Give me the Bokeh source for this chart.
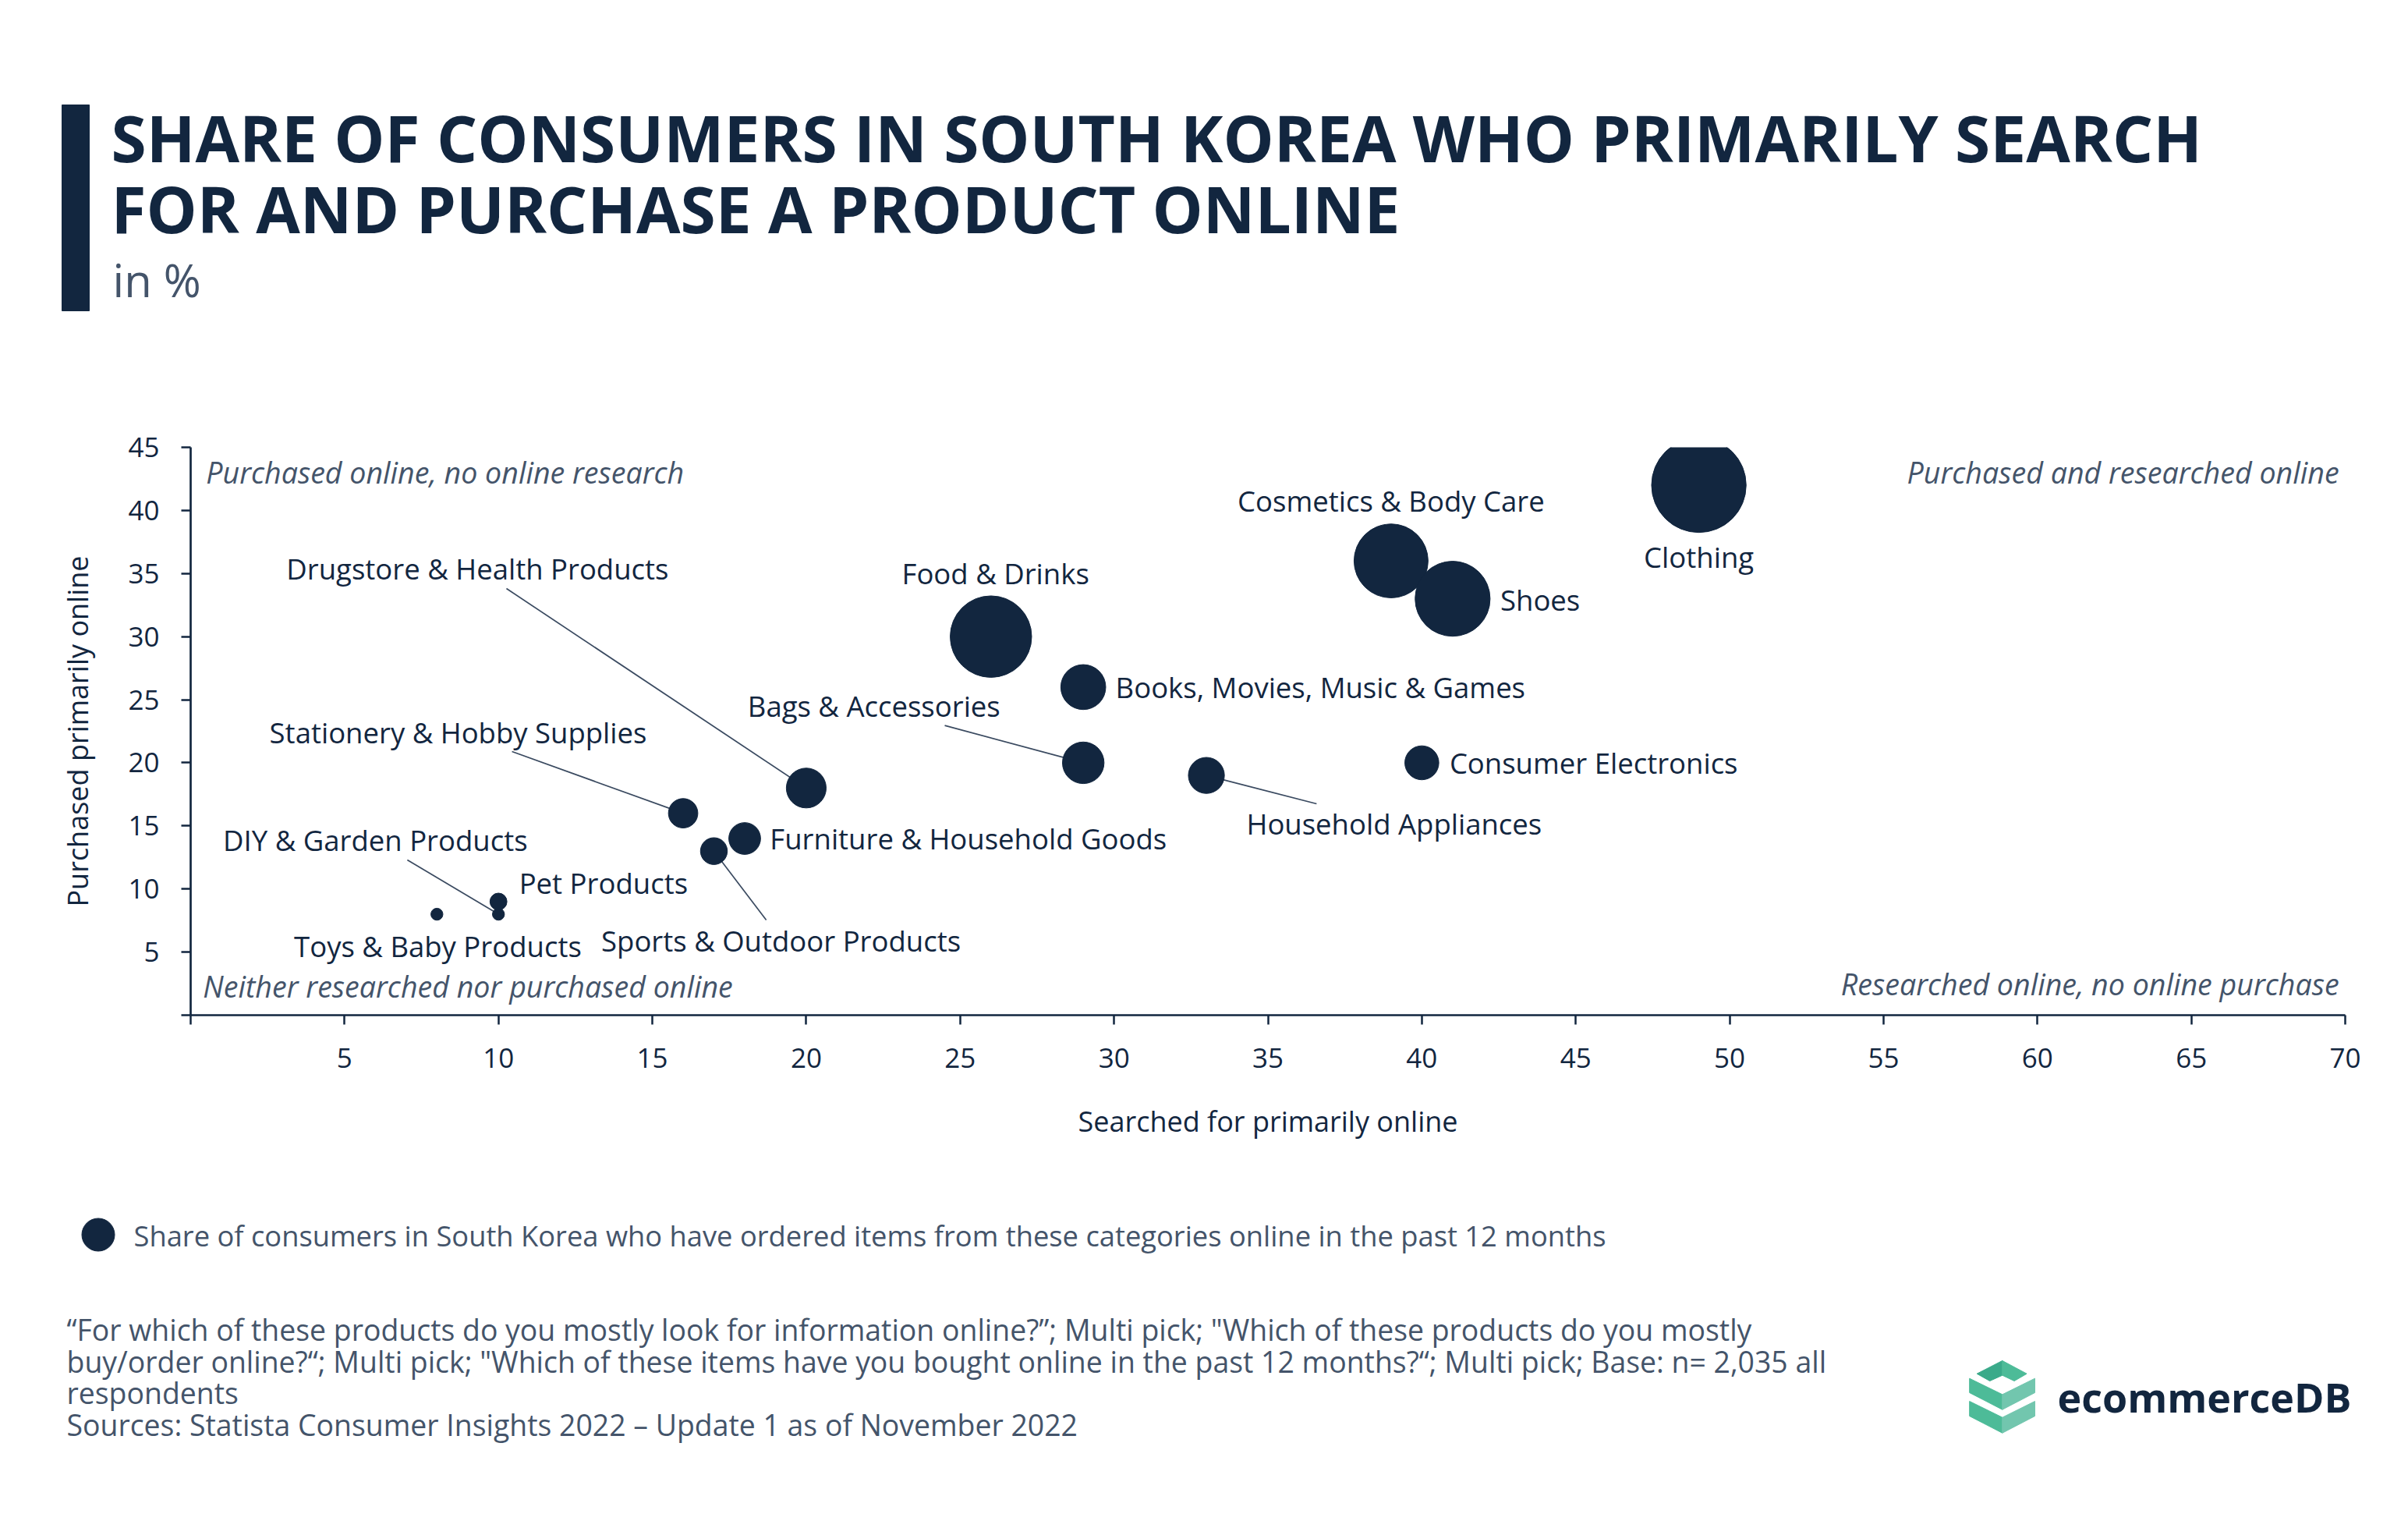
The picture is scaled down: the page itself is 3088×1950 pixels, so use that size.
from bokeh.plotting import figure
from bokeh.models import Range1d, FixedTicker
from bokeh.layouts import column
from bokeh.embed import file_html
from bokeh.resources import INLINE
from bokeh.core.properties import value
import numpy as np

# ---------------- data ----------------
categories = ["Clothing", "Cosmetics & Body Care", "Shoes", "Food & Drinks",
              "Books, Movies, Music & Games", "Consumer Electronics", "Bags & Accessories",
              "Household Appliances", "Drugstore & Health Products", "Stationery & Hobby Supplies",
              "Furniture & Household Goods", "DIY & Garden Products", "Pet Products",
              "Toys & Baby Products", "Sports & Outdoor Products"]
searched_online = [49, 39, 41, 26, 29, 40, 29, 33, 20, 16, 18, 10, 10, 8, 17]
purchased_online = [42, 36, 33, 30, 26, 20, 20, 19, 18, 16, 14, 8, 9, 8, 13]
ordered_past_12m = [62, 38, 39, 46, 14, 8, 12, 9, 11, 6, 7, 1, 2, 1, 5]

x_ticks = list(range(0, 71, 5))
y_ticks = list(range(0, 46, 5))

title_lines = ["SHARE OF CONSUMERS IN SOUTH KOREA WHO PRIMARILY SEARCH",
               "FOR AND PURCHASE A PRODUCT ONLINE"]
subtitle = "in %"
legend_text = "Share of consumers in South Korea who have ordered items from these categories online in the past 12 months"
notes = ["\u201cFor which of these products do you mostly look for information online?\u201d; Multi pick; \"Which of these products do you mostly",
         "buy/order online?\u201c; Multi pick; \"Which of these items have you bought online in the past 12 months?\u201c; Multi pick; Base: n= 2,035 all",
         "respondents",
         "Sources: Statista Consumer Insights 2022 \u2013 Update 1 as of November 2022"]

# ---------------- styles / layout ----------------
NAVY = "#12263F"
GREY = "#44546A"
FONT = "Open Sans"
W = 3072
H1, H2, H3 = 440, 1052, 442          # header / chart / footer heights
FL, FT = 244, 133                    # chart frame offsets inside the chart figure
FW, FH = 2763, 728                   # chart frame size

# label placement in data coords: (x, y, align, leader start or None)
label_layout = {
    "Clothing": (49.0, 36.3, "center", None),
    "Cosmetics & Body Care": (39.0, 40.75, "center", None),
    "Shoes": (42.55, 32.9, "left", None),
    "Food & Drinks": (26.15, 35.0, "center", None),
    "Books, Movies, Music & Games": (30.05, 26.0, "left", None),
    "Consumer Electronics": (40.9, 20.0, "left", None),
    "Bags & Accessories": (22.2, 24.5, "center", (24.5, 22.96)),
    "Household Appliances": (39.1, 15.15, "center", (36.58, 16.75)),
    "Drugstore & Health Products": (9.32, 35.4, "center", (10.26, 33.81)),
    "Stationery & Hobby Supplies": (8.69, 22.4, "center", (10.44, 20.89)),
    "Furniture & Household Goods": (18.82, 14.0, "left", None),
    "DIY & Garden Products": (6.0, 13.85, "center", (7.04, 12.3)),
    "Pet Products": (10.67, 10.45, "left", None),
    "Toys & Baby Products": (8.03, 5.5, "center", None),
    "Sports & Outdoor Products": (19.18, 5.93, "center", (18.7, 7.54)),
}


def no_align(f):
    try:
        f.frame_align = False
    except Exception:
        pass


def blank(height):
    f = figure(width=W, height=height, output_backend="svg", toolbar_location=None,
               x_range=Range1d(0, W), y_range=Range1d(height, 0),
               min_border=0, outline_line_color=None, background_fill_color="white",
               border_fill_color="white")
    f.axis.visible = False
    f.grid.visible = False
    no_align(f)
    return f


def txt(f, x, y, text, size, color, style="normal", align="left"):
    f.text(x=[x], y=[y], text=[text], text_font=value(FONT), text_font_size=size,
           text_font_style=style, text_color=color, text_align=align, text_baseline="middle")


# ---------------- header (page coords) ----------------
hdr = blank(H1)
hdr.quad(left=[79], right=[114], top=[134], bottom=[398], color=NAVY)
txt(hdr, 142, 175, title_lines[0], "82px", NAVY, "bold")
txt(hdr, 142, 266, title_lines[1], "82px", NAVY, "bold")
txt(hdr, 144, 358, subtitle, "58px", GREY)

# ---------------- main chart ----------------
p = figure(width=W, height=H2, frame_width=FW, frame_height=FH,
           output_backend="svg", toolbar_location=None,
           x_range=Range1d(0, 70), y_range=Range1d(0, 45),
           min_border_left=FL, min_border_right=W - FL - FW, min_border_top=FT,
           min_border_bottom=H2 - FT - FH,
           outline_line_color=None, background_fill_color="white", border_fill_color="white")
p.grid.visible = False
no_align(p)

for ax in (p.xaxis, p.yaxis):
    ax.axis_line_color = NAVY
    ax.axis_line_width = 2.7
    ax.major_tick_line_color = NAVY
    ax.major_tick_line_width = 2.5
    ax.major_tick_in = 0
    ax.major_tick_out = 12
    ax.minor_tick_line_color = None
    ax.major_label_text_font = FONT
    ax.major_label_text_font_size = "35px"
    ax.major_label_text_color = NAVY
    ax.axis_label_text_font = FONT
    ax.axis_label_text_font_size = "36px"
    ax.axis_label_text_font_style = "normal"
    ax.axis_label_text_color = NAVY

p.xaxis.ticker = FixedTicker(ticks=x_ticks)
p.xaxis.major_label_overrides = {0: ""}
p.xaxis.major_label_standoff = 30
p.xaxis.axis_label = "Searched for primarily online"
p.xaxis.axis_label_standoff = 41
p.yaxis.ticker = FixedTicker(ticks=y_ticks)
p.yaxis.major_label_overrides = {0: ""}
p.yaxis.major_label_standoff = 28
p.yaxis.axis_label = "Purchased primarily online"
p.yaxis.axis_label_standoff = 37

# leader lines
lx, ly = [], []
for cat, xv, yv in zip(categories, searched_online, purchased_online):
    lay = label_layout[cat]
    if lay[3] is not None:
        lx.append([lay[3][0], xv])
        ly.append([lay[3][1], yv])
p.multi_line(xs=lx, ys=ly, line_color="#3A4A60", line_width=1.7)

# bubbles: diameter proportional to sqrt of share
diam = [15.4 * np.sqrt(v) for v in ordered_past_12m]
p.scatter(x=searched_online, y=purchased_online, size=diam, marker="circle",
          fill_color=NAVY, line_color=NAVY, line_width=1)

for align in ("left", "center"):
    xs = [label_layout[c][0] for c in categories if label_layout[c][2] == align]
    ys = [label_layout[c][1] for c in categories if label_layout[c][2] == align]
    ts = [c for c in categories if label_layout[c][2] == align]
    p.text(x=xs, y=ys, text=ts, text_align=align, text_baseline="middle",
           text_font=value(FONT), text_font_size="36.5px", text_color=NAVY)

# quadrant captions
p.text(x=[0.5, 0.4], y=[43.0, 2.3],
       text=["Purchased online, no online research", "Neither researched nor purchased online"],
       text_align="left", text_baseline="middle", text_font=value(FONT),
       text_font_style="italic", text_font_size="37.6px", text_color=GREY)
p.text(x=[69.8, 69.8], y=[43.0, 2.45],
       text=["Purchased and researched online", "Researched online, no online purchase"],
       text_align="right", text_baseline="middle", text_font=value(FONT),
       text_font_style="italic", text_font_size="37.6px", text_color=GREY)

# ---------------- footer (page coords minus chart bottom) ----------------
ftr = blank(H3)
Y0 = H1 + H2
ftr.scatter(x=[125.5], y=[1582.5 - Y0], size=42, marker="circle", color=NAVY)
txt(ftr, 171, 1583 - Y0, legend_text, "36.3px", GREY)
for i, line in enumerate(notes):
    txt(ftr, 85, 1704 - Y0 + 40.7 * i, line, "37.4px", GREY)

shapes = [
    ([(2534.7, 1760.7), (2567.3, 1744), (2567.3, 1762.7), (2551.2, 1770)], "#3AAA8A"),
    ([(2567.3, 1744), (2598.6, 1760.7), (2582.6, 1770), (2567.3, 1762.7)], "#4DBB98"),
    ([(2525.2, 1766.7), (2567.3, 1787.3), (2567.3, 1806.7), (2525.2, 1785)], "#4DBB98"),
    ([(2567.3, 1787.3), (2609, 1766.7), (2609, 1785), (2567.3, 1806.7)], "#72C6AE"),
    ([(2525.2, 1796), (2567.3, 1816.7), (2567.3, 1836.7), (2525.2, 1815)], "#4DBB98"),
    ([(2567.3, 1816.7), (2609, 1796), (2609, 1815), (2567.3, 1836.7)], "#72C6AE"),
]
ftr.patches(xs=[[a for a, b in s] for s, c in shapes],
            ys=[[b - Y0 for a, b in s] for s, c in shapes],
            fill_color=[c for s, c in shapes], line_color=[c for s, c in shapes], line_width=1)
txt(ftr, 2638, 1790 - Y0, "ecommerceDB", "52px", NAVY, "bold")

layout = column(hdr, p, ftr, spacing=0)
open("out.html", "w").write(file_html(layout, INLINE))
